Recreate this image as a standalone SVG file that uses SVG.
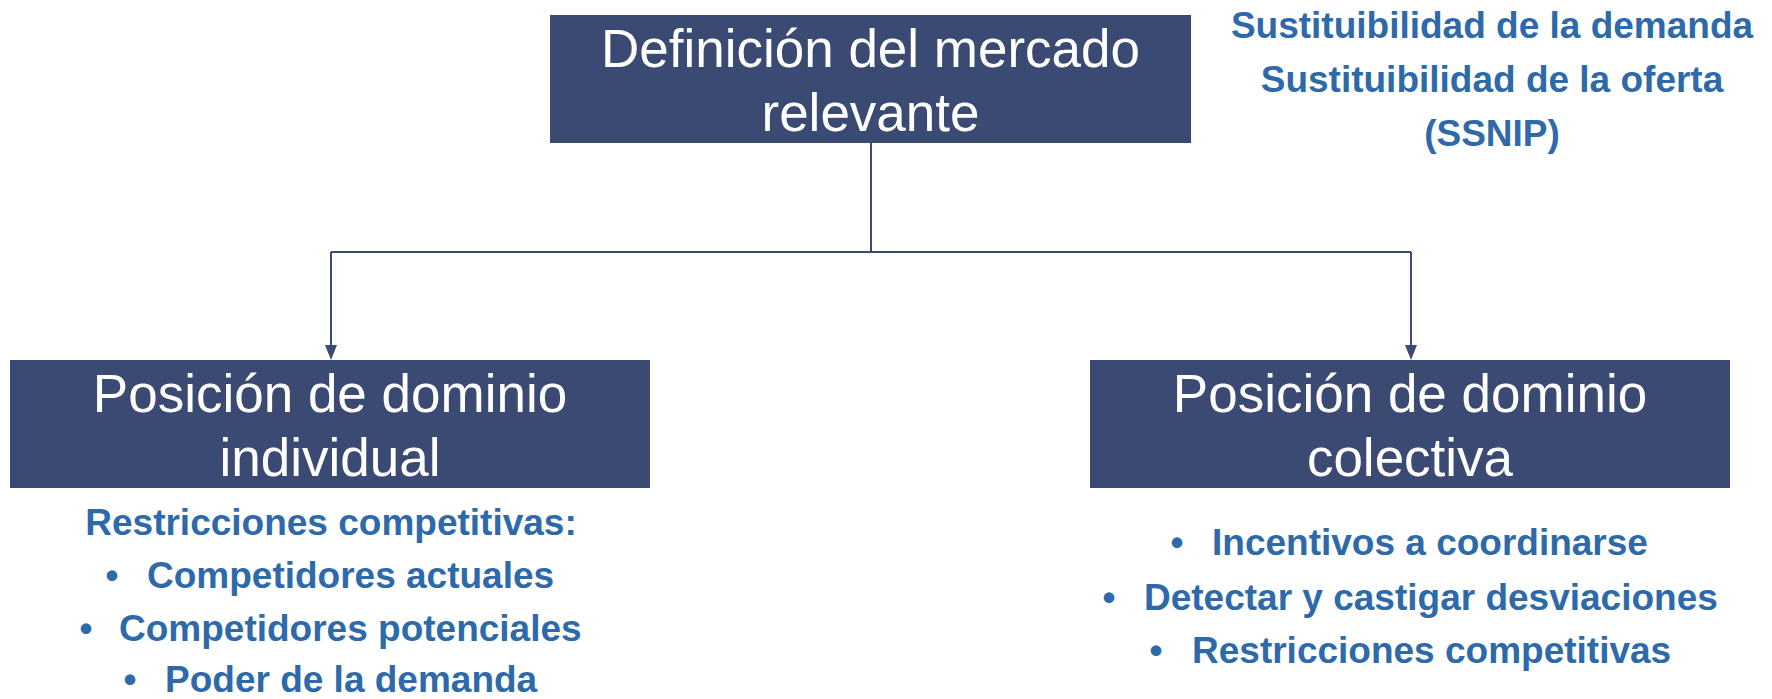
<svg xmlns="http://www.w3.org/2000/svg" width="1772" height="699" viewBox="0 0 1772 699">
  <style>
    .box { fill: #3B4A73; }
    .boxtxt { font-family: "Liberation Sans", Arial, sans-serif; font-size: 53px; fill: #FFFFFF; text-anchor: middle; }
    .blue { font-family: "Liberation Sans", Arial, sans-serif; font-size: 37px; font-weight: bold; fill: #2E6AAA; }
    .mid { text-anchor: middle; }
    .conn { fill: none; stroke: #3B4A73; stroke-width: 2; }
    .head { fill: #3B4A73; }
  </style>
  <rect width="1772" height="699" fill="#FFFFFF"/>

  <g id="connectors">
    <path class="conn" d="M871,143 L871,252"/>
    <path class="conn" d="M331,252 L1411,252"/>
    <path class="conn" d="M331,252 L331,345"/>
    <path class="conn" d="M1411,252 L1411,345"/>
    <path class="head" d="M325,345 L337,345 L331,360 Z"/>
    <path class="head" d="M1405,345 L1417,345 L1411,360 Z"/>
  </g>

  <g id="node-mercado">
    <rect class="box" x="550" y="15" width="641" height="128"/>
    <text class="boxtxt" x="870.5" y="67">Definición del mercado</text>
    <text class="boxtxt" x="870.5" y="131">relevante</text>
  </g>

  <g id="node-sustituibilidad">
    <text class="blue mid" x="1492" y="38">Sustituibilidad de la demanda</text>
    <text class="blue mid" x="1492" y="92">Sustituibilidad de la oferta</text>
    <text class="blue mid" x="1492" y="146">(SSNIP)</text>
  </g>

  <g id="node-individual">
    <rect class="box" x="10" y="360" width="640" height="128"/>
    <text class="boxtxt" x="330" y="412">Posición de dominio</text>
    <text class="boxtxt" x="330" y="476">individual</text>
  </g>

  <g id="list-individual">
    <text class="blue mid" x="331" y="535">Restricciones competitivas:</text>
    <text class="blue mid" x="112" y="588">•</text>
    <text class="blue" x="147" y="588">Competidores actuales</text>
    <text class="blue mid" x="86" y="641">•</text>
    <text class="blue" x="119" y="641">Competidores potenciales</text>
    <text class="blue mid" x="130" y="692">•</text>
    <text class="blue" x="165" y="692">Poder de la demanda</text>
  </g>

  <g id="node-colectiva">
    <rect class="box" x="1090" y="360" width="640" height="128"/>
    <text class="boxtxt" x="1410" y="412">Posición de dominio</text>
    <text class="boxtxt" x="1410" y="476">colectiva</text>
  </g>

  <g id="list-colectiva">
    <text class="blue mid" x="1177" y="555">•</text>
    <text class="blue" x="1212" y="555">Incentivos a coordinarse</text>
    <text class="blue mid" x="1109" y="610">•</text>
    <text class="blue" x="1144" y="610">Detectar y castigar desviaciones</text>
    <text class="blue mid" x="1156" y="663">•</text>
    <text class="blue" x="1192" y="663">Restricciones competitivas</text>
  </g>
</svg>
